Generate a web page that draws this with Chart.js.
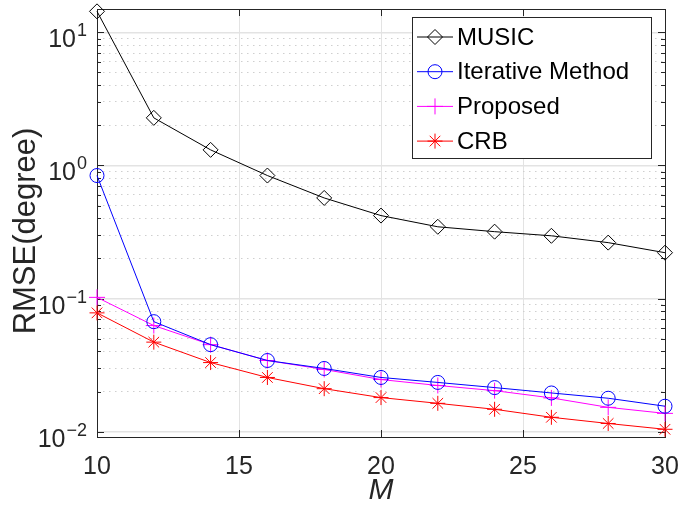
<!DOCTYPE html>
<html lang="en">
<head>
<meta charset="UTF-8">
<title>RMSE versus M</title>
<script src="https://cdn.jsdelivr.net/npm/chart.js"></script>
<style>
  html, body { margin: 0; padding: 0; background: #fff; }
</style>
</head>
<body>
<canvas id="rmse-chart" width="697" height="506"></canvas>
<script>
// values
const mValues = [10, 12, 14, 16, 18, 20, 22, 24, 26, 28, 30];
const musicRmse = [14.4, 2.28, 1.31, 0.84, 0.57, 0.42, 0.346, 0.318, 0.296, 0.263, 0.221];
const iterativeRmse = [0.84, 0.067, 0.045, 0.0342, 0.0298, 0.0255, 0.0234, 0.0214, 0.0195, 0.0178, 0.0155];
const proposedRmse = [0.102, 0.0626, 0.045, 0.0342, 0.0293, 0.0246, 0.0222, 0.0203, 0.0179, 0.0152, 0.0137];
const crbRmse = [0.078, 0.047, 0.033, 0.0255, 0.021, 0.018, 0.0163, 0.0147, 0.0128, 0.0115, 0.0104];
const xTicks = [10, 15, 20, 25, 30];
const yDecades = [-2, -1, 0, 1];
const yMin = 0.0091, yMax = 15;

const axisColor = '#262626';
const font = 'Liberation Sans, Arial, Helvetica, sans-serif';

// 1..9 x 10^d inside the range, for the dotted minor grid
const yTickValues = [];
yDecades.forEach(d => {
    for (let k = 1; k <= 9; k++) {
        const v = Number((k * Math.pow(10, d)).toPrecision(3));
        if (v >= yMin && v <= yMax) yTickValues.push(v);
    }
});

function isDecade(v) {
    const l = Math.log10(v);
    return Math.abs(l - Math.round(l)) < 1e-6;
}

function toPoints(values) {
    return values.map((v, i) => ({ x: mValues[i], y: v }));
}

const series = [
    { label: 'MUSIC', data: musicRmse, color: '#000000', style: 'rectRot', radius: 7.5 },
    { label: 'Iterative Method', data: iterativeRmse, color: '#0000ff', style: 'circle', radius: 7 },
    { label: 'Proposed', data: proposedRmse, color: '#ff00ff', style: 'cross', radius: 8 },
    { label: 'CRB', data: crbRmse, color: '#ff0000', style: 'star', radius: 7.5 }
];

const matlabFrame = {
    id: 'matlabFrame',
    beforeDatasetsDraw(chart) {
        const { ctx, chartArea: a, scales: { x, y } } = chart;
        ctx.save();
        ctx.strokeStyle = axisColor;
        ctx.lineWidth = 1;
        ctx.beginPath();
        // inward ticks on all four sides
        yTickValues.forEach(v => {
            const py = Math.round(y.getPixelForValue(v)) + 0.5;
            const len = isDecade(v) ? 7 : 4;
            ctx.moveTo(a.left, py); ctx.lineTo(a.left + len, py);
            ctx.moveTo(a.right, py); ctx.lineTo(a.right - len, py);
        });
        xTicks.forEach(v => {
            const px = Math.round(x.getPixelForValue(v)) + 0.5;
            ctx.moveTo(px, a.bottom); ctx.lineTo(px, a.bottom - 7);
            ctx.moveTo(px, a.top); ctx.lineTo(px, a.top + 7);
        });
        ctx.stroke();
        ctx.strokeRect(Math.round(a.left) + 0.5, Math.round(a.top) + 0.5,
            Math.round(a.right - a.left), Math.round(a.bottom - a.top));

        // y tick labels 10^n
        ctx.fillStyle = axisColor;
        ctx.textBaseline = 'alphabetic';
        yDecades.forEach(d => {
            const py = y.getPixelForValue(Math.pow(10, d));
            const sup = String(d).replace('-', '\u2212');
            ctx.font = '18px ' + font;
            const supW = ctx.measureText(sup).width;
            const baseRight = 86 - supW;
            ctx.textAlign = 'left';
            ctx.fillText(sup, baseRight + 1, py + 4);
            ctx.font = '25px ' + font;
            ctx.textAlign = 'right';
            ctx.fillText('10', baseRight, py + 15);
        });

        // y title
        ctx.translate(26, 231);
        ctx.rotate(-Math.PI / 2);
        ctx.font = '31px ' + font;
        ctx.textAlign = 'center';
        ctx.textBaseline = 'middle';
        ctx.fillText('RMSE(degree)', 0, 0);
        ctx.restore();
    },
    afterDatasetsDraw(chart) {
        const { ctx } = chart;
        const box = { left: 412, top: 17, width: 239, height: 141 };
        ctx.save();
        ctx.fillStyle = '#ffffff';
        ctx.fillRect(box.left, box.top, box.width, box.height);
        ctx.strokeStyle = axisColor;
        ctx.lineWidth = 1;
        ctx.strokeRect(box.left + 0.5, box.top + 0.5, box.width, box.height);
        chart.data.datasets.forEach((ds, i) => {
            const cy = 37 + i * 34.7;
            ctx.strokeStyle = ds.borderColor;
            ctx.lineWidth = 1;
            ctx.beginPath();
            ctx.moveTo(417, cy); ctx.lineTo(453, cy);
            ctx.stroke();
            ctx.fillStyle = 'rgba(255,255,255,0)';
            Chart.helpers.drawPoint(ctx, {
                pointStyle: ds.pointStyle, radius: ds.pointRadius, borderWidth: 1
            }, 435, cy);
            ctx.fillStyle = '#000000';
            ctx.font = '24px ' + font;
            ctx.textAlign = 'left';
            ctx.textBaseline = 'middle';
            ctx.fillText(ds.label, 457, cy + 1);
        });
        ctx.restore();
    }
};

const chart = new Chart(document.getElementById('rmse-chart'), {
    type: 'line',
    data: {
        datasets: series.map(s => ({
            label: s.label,
            data: toPoints(s.data),
            borderColor: s.color,
            backgroundColor: 'rgba(0,0,0,0)',
            borderWidth: 1,
            pointStyle: s.style,
            pointRadius: s.radius,
            pointHoverRadius: s.radius,
            pointBorderColor: s.color,
            pointBackgroundColor: 'rgba(0,0,0,0)',
            pointBorderWidth: 1,
            tension: 0,
            clip: false
        }))
    },
    options: {
        responsive: false,
        animation: false,
        layout: { padding: { top: 9, right: 32, left: 0, bottom: 0 } },
        plugins: { legend: { display: false }, tooltip: { enabled: false } },
        scales: {
            x: {
                type: 'linear',
                min: 10,
                max: 30,
                afterBuildTicks: axis => { axis.ticks = xTicks.map(v => ({ value: v })); },
                afterFit: axis => { axis.height = 69; },
                grid: { color: '#e3e3e3', lineWidth: 1, drawTicks: false },
                border: { display: false },
                ticks: {
                    color: axisColor,
                    font: { family: font, size: 25 },
                    padding: 15,
                    maxRotation: 0,
                    autoSkip: false
                },
                title: {
                    display: true,
                    text: 'M',
                    color: axisColor,
                    font: { family: font, size: 30, style: 'italic', lineHeight: 1 },
                    padding: { top: 0, bottom: 0 }
                }
            },
            y: {
                type: 'logarithmic',
                min: yMin,
                max: yMax,
                afterBuildTicks: axis => { axis.ticks = yTickValues.map(v => ({ value: v })); },
                afterFit: axis => { axis.width = 97; },
                grid: {
                    drawTicks: false,
                    color: c => (c.tick && isDecade(c.tick.value)) ? '#e3e3e3' : '#cfcfcf',
                    lineWidth: c => (c.tick && isDecade(c.tick.value)) ? 1.5 : 1
                },
                border: {
                    display: false,
                    dash: c => (c.tick && !isDecade(c.tick.value)) ? [1.5, 4.5] : []
                },
                ticks: { display: false }
            }
        }
    },
    plugins: [matlabFrame]
});
</script>
</body>
</html>
